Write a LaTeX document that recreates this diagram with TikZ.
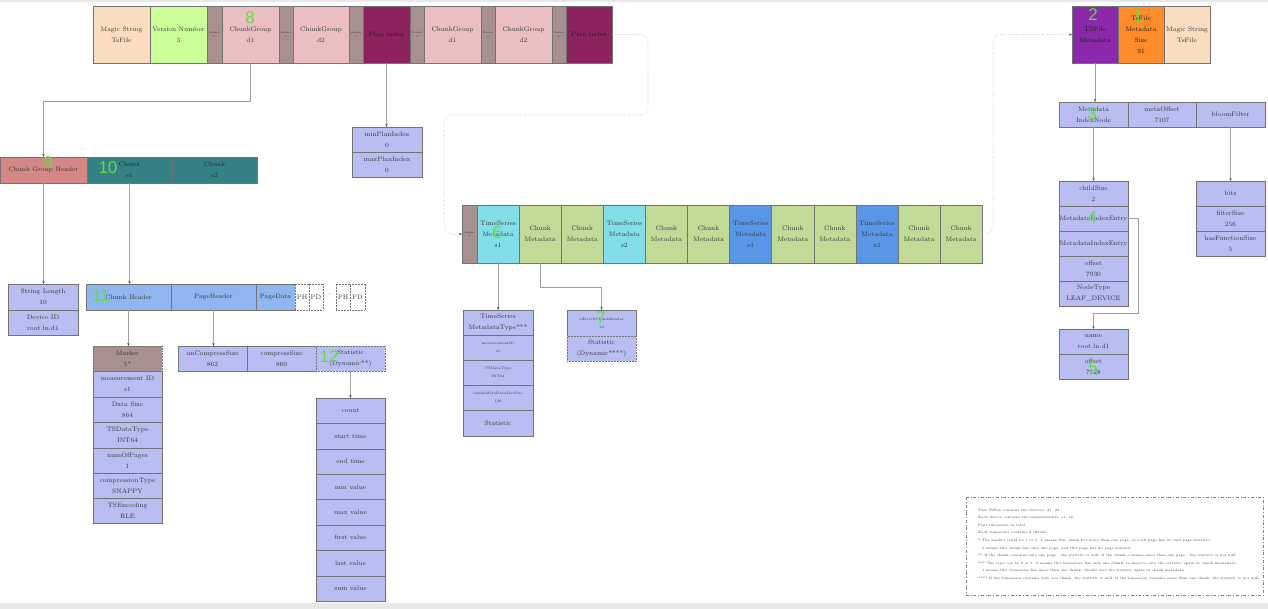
\documentclass[tikz,border=0pt]{standalone}
\usepackage{fontspec}
\newfontfamily\grnfont{Liberation Sans}
\usetikzlibrary{arrows.meta}
\definecolor{peach}{RGB}{250,221,192}
\definecolor{vgreen}{RGB}{204,255,153}
\definecolor{markerc}{RGB}{168,144,144}
\definecolor{cgpink}{RGB}{235,190,194}
\definecolor{planc}{RGB}{140,35,95}
\definecolor{tsmetac}{RGB}{140,40,170}
\definecolor{tsorange}{RGB}{255,140,40}
\definecolor{cghdr}{RGB}{212,136,134}
\definecolor{chunkteal}{RGB}{52,130,134}
\definecolor{chdrblue}{RGB}{143,182,240}
\definecolor{fieldc}{RGB}{184,190,242}
\definecolor{tscyan}{RGB}{130,222,232}
\definecolor{tsblue}{RGB}{90,150,232}
\definecolor{cmgreen}{RGB}{194,218,152}
\definecolor{grncol}{RGB}{100,220,70}
\definecolor{bandc}{RGB}{232,232,232}
\newcommand\fsz{\fontsize{6.5}{11}\selectfont}
\newcommand\tsz{\fontsize{2.5}{3.5}\selectfont}
\newcommand\ssz{\fontsize{3.5}{8}\selectfont}
\newcommand\nsz{\fontsize{3.35}{7.6}\selectfont}
\begin{document}
\begin{tikzpicture}[x=1pt,y=-1pt,
  cell/.style={draw=black!55, line width=0.5pt, inner sep=0pt, outer sep=0pt, anchor=north west, align=center, text=black!80, font=\fsz},
  sz/.style 2 args={minimum width=#1pt, minimum height=#2pt},
  mk/.style={cell, fill=markerc, font=\tsz},
  fld/.style={cell, fill=fieldc},
  dotbox/.style={draw=black!55, densely dotted},
  conn/.style={draw=gray!75, line width=0.6pt, -{Stealth[length=3pt,width=2.4pt,color=black!70]}},
  dconn/.style={draw=gray!60, line width=0.6pt, dotted, rounded corners=8pt, -{Stealth[length=3pt,width=2.4pt,color=black!70]}},
  grn/.style={font=\grnfont\fontsize{17}{17}\selectfont, text=grncol, inner sep=0pt}
]
\useasboundingbox (0,0) rectangle (1268,609);
\fill[bandc] (0,0) rectangle (1268,2.5);
\fill[bandc] (0,603) rectangle (1268,609);

% top row
\node[cell, fill=peach, sz={57}{57}] (ms1) at (93,6) {Magic String\\TsFile};
\node[cell, fill=vgreen, sz={57}{57}] (ver) at (150,6) {Version Number\\3};
\node[mk, sz={15}{57}] (m1) at (207,6) {Marker\\0};
\node[cell, fill=cgpink, sz={57}{57}] (cg1) at (222,6) {ChunkGroup\\d1};
\node[mk, sz={14}{57}] (m2) at (279,6) {Marker\\0};
\node[cell, fill=cgpink, sz={56}{57}] (cg2) at (293,6) {ChunkGroup\\d2};
\node[mk, sz={14}{57}] (m3) at (349,6) {Marker\\4};
\node[cell, fill=planc, text=black!90, sz={47}{57}] (plan1) at (363,6) {Plan Index};
\node[mk, sz={14}{57}] (m4) at (410,6) {Marker\\0};
\node[cell, fill=cgpink, sz={57}{57}] (cg3) at (424,6) {ChunkGroup\\d1};
\node[mk, sz={14}{57}] (m5) at (481,6) {Marker\\0};
\node[cell, fill=cgpink, sz={57}{57}] (cg4) at (495,6) {ChunkGroup\\d2};
\node[mk, sz={14}{57}] (m6) at (552,6) {Marker\\4};
\node[cell, fill=planc, text=black!90, sz={46}{57}] (plan2) at (566,6) {Plan Index};

\node[cell, fill=tsmetac, text=black!90, sz={46}{57}] (tsm) at (1072,6) {TSFile\\Metadata};
\node[cell, fill=tsorange, text=black!90, sz={46}{57}] (tss) at (1118,6) {TsFile\\Metadata\\Size\\91};
\node[cell, fill=peach, sz={46}{57}] (ms2) at (1164,6) {Magic String\\TsFile};

% chunk group
\node[cell, fill=cghdr, sz={87}{26}] (cgh) at (0,157) {Chunk Group Header};
\node[cell, fill=chunkteal, text=black!85, sz={85}{26}] (ck1) at (87,157) {Chunk\\s1};
\node[cell, fill=chunkteal, text=black!85, sz={85}{26}] (ck2) at (172,157) {Chunk\\s2};

\node[fld, sz={70}{26}] (sl) at (8,284) {String Length\\10};
\node[fld, sz={70}{25}] (did) at (8,310) {Device ID\\root.ln.d1};

% chunk
\node[cell, fill=chdrblue, sz={85}{26}] (chh) at (86,284) {Chunk Header};
\node[cell, fill=chdrblue, sz={85}{26}] (phd) at (171,284) {PageHeader};
\node[cell, fill=chdrblue, sz={39}{26}] (pdt) at (256,284) {PageData};
\node[cell, dotbox, fill=white, sz={14}{26}] (ph1) at (295,284) {PH};
\node[cell, dotbox, fill=white, sz={14}{26}] (pd1) at (309,284) {PD};
\node[text=black!85, font=\fontsize{9}{9}\selectfont, inner sep=0pt] (dots) at (330,296) {\textperiodcentered\kern-0.5pt\textperiodcentered\kern-0.5pt\textperiodcentered};
\node[cell, dotbox, fill=white, sz={14}{26}] (ph2) at (336,284) {PH};
\node[cell, dotbox, fill=white, sz={15}{26}] (pd2) at (350,284) {PD};

\node[cell, fill=markerc, dotbox, sz={69}{25}] (mk5) at (93,346) {Marker\\5*};
\node[fld, sz={69}{26}] (f1) at (93,371) {measurement ID\\s1};
\node[fld, sz={69}{25}] (f2) at (93,397) {Data Size\\864};
\node[fld, sz={69}{26}] (f3) at (93,422) {TSDataType\\INT64};
\node[fld, sz={69}{25}] (f4) at (93,448) {numOfPages\\1};
\node[fld, sz={69}{25}] (f5) at (93,473) {compressionType\\SNAPPY};
\node[fld, sz={69}{25}] (f6) at (93,498) {TSEncoding\\RLE};

\node[fld, sz={69}{25}] (ucs) at (178,346) {unCompressSize\\862};
\node[fld, sz={69}{25}] (cps) at (247,346) {compressSize\\860};
\node[fld, dotbox, sz={69}{25}] (st) at (316,346) {Statistic\\(Dynamic**)};

\node[fld, sz={69}{25.4}] (s1) at (316,398) {count};
\node[fld, sz={69}{25.4}] (s2) at (316,423.4) {start time};
\node[fld, sz={69}{25.4}] (s3) at (316,448.8) {end time};
\node[fld, sz={69}{25.4}] (s4) at (316,474.2) {min value};
\node[fld, sz={69}{25.4}] (s5) at (316,499.6) {max value};
\node[fld, sz={69}{25.4}] (s6) at (316,525) {first value};
\node[fld, sz={69}{25.4}] (s7) at (316,550.4) {last value};
\node[fld, sz={69}{25.4}] (s8) at (316,575.8) {sum value};

% plan index
\node[fld, sz={70}{25}] (mpi) at (352,127) {minPlanIndex\\0};
\node[fld, sz={70}{25}] (xpi) at (352,152) {maxPlanIndex\\0};

% middle row
\node[mk, sz={15}{58}] (mk7) at (462,205) {Marker\\2};
\node[cell, fill=tscyan, sz={42.1}{58}] (tm1) at (477,205) {TimeSeries\\Metadata\\s1};
\node[cell, fill=cmgreen, sz={42.1}{58}] (cm1) at (519.1,205) {Chunk\\Metadata};
\node[cell, fill=cmgreen, sz={42.1}{58}] (cm2) at (561.2,205) {Chunk\\Metadata};
\node[cell, fill=tscyan, sz={42.1}{58}] (tm2) at (603.3,205) {TimeSeries\\Metadata\\s2};
\node[cell, fill=cmgreen, sz={42.1}{58}] (cm3) at (645.4,205) {Chunk\\Metadata};
\node[cell, fill=cmgreen, sz={42.1}{58}] (cm4) at (687.5,205) {Chunk\\Metadata};
\node[cell, fill=tsblue, sz={42.1}{58}] (tm3) at (729.6,205) {TimeSeries\\Metadata\\s1};
\node[cell, fill=cmgreen, sz={42.1}{58}] (cm5) at (771.7,205) {Chunk\\Metadata};
\node[cell, fill=cmgreen, sz={42.1}{58}] (cm6) at (813.8,205) {Chunk\\Metadata};
\node[cell, fill=tsblue, sz={42.1}{58}] (tm4) at (855.9,205) {TimeSeries\\Metadata\\s2};
\node[cell, fill=cmgreen, sz={42.1}{58}] (cm7) at (898,205) {Chunk\\Metadata};
\node[cell, fill=cmgreen, sz={42.1}{58}] (cm8) at (940.1,205) {Chunk\\Metadata};

\node[fld, sz={70}{25}] (tmt) at (463,310) {TimeSeries\\MetadataType***};
\node[fld, font=\ssz, sz={70}{25}] (mid) at (463,335) {measurementID\\s1};
\node[fld, font=\ssz, sz={70}{25}] (tdt) at (463,360) {TSDataType\\INT64};
\node[fld, font=\ssz, sz={70}{25}] (cml) at (463,385) {chunkMetaDataListSize\\136};
\node[fld, sz={70}{26}] (sta) at (463,410) {Statistic};

\node[fld, font=\ssz, sz={69}{26}] (och) at (567,310) {offsetOfChunkHeader\\19};
\node[fld, dotbox, sz={69}{25}] (sdy) at (567,336) {Statistic\\(Dynamic****)};

% right side
\node[fld, sz={69}{25}] (min) at (1059,102) {Metadata\\IndexNode};
\node[fld, sz={68}{25}] (mof) at (1128,102) {metaOffset\\7107};
\node[fld, sz={69}{25}] (bf) at (1196,102) {bloomFilter};

\node[fld, sz={69}{25}] (cs1) at (1059,181) {childSize\\2};
\node[fld, sz={69}{25}] (mie1) at (1059,206) {MetadataIndexEntry};
\node[fld, sz={69}{25}] (mie2) at (1059,231) {MetadataIndexEntry};
\node[fld, sz={69}{25}] (ofs) at (1059,256) {offset\\7930};
\node[fld, sz={69}{25}] (ntp) at (1059,281) {NodeType\\LEAF\_DEVICE};

\node[fld, sz={69}{25}] (bits) at (1196,181) {bits};
\node[fld, sz={69}{25}] (fsz) at (1196,206) {filterSize\\256};
\node[fld, sz={69}{25}] (hfs) at (1196,231) {hasFunctionSize\\5};

\node[fld, sz={69}{25}] (nm) at (1059,329) {name\\root.ln.d1};
\node[fld, sz={69}{25}] (nof) at (1059,354) {offset\\7528};

% connectors
\coordinate (w1) at (648,115);
\coordinate (w2) at (444,115);
\coordinate (w3) at (993,234);
\draw[conn] (cg1.south) -- ++(0,38) -| (cgh.north);
\draw[conn] (cgh.south) -- (cgh.south |- sl.north);
\draw[conn] (ck1.south) -- (ck1.south |- chh.north);
\draw[conn] (chh.south) -- (chh.south |- mk5.north);
\draw[conn] (phd.south) -- (phd.south |- ucs.north);
\draw[conn] (st.south) -- (st.south |- s1.north);
\draw[conn] (plan1.south) -- (plan1.south |- mpi.north);
\draw[dconn] (plan2.east) -| (w1) -- (w2) |- (mk7.west);
\draw[dconn] (cm8.east) -- (w3) |- (tsm.west);
\draw[conn] (tm1.south) -- (tm1.south |- tmt.north);
\draw[conn] (cm1.south) -- ++(0,24) -| (och.north);
\draw[conn] (tsm.south) -- (tsm.south |- min.north);
\draw[conn] (min.south) -- (min.south |- cs1.north);
\draw[conn] (bf.south) -- (bf.south |- bits.north);
\draw[conn] (mie1.east) -- ++(10,0) -- ++(0,95) -| (nm.north);

% note
\draw[draw=black!50, line width=0.5pt, dash dot] (966,497) rectangle (1263,595);
\node[anchor=north west, align=left, font=\nsz, text=black!75, inner sep=0pt] (note) at (978,508.5) {%
This TsFile contains two devices: d1, d2.\\
Each device contains two measurements: s1, s2.\\
Four timeseries in total.\\
Each timeseries contains 2 chunks.\\
* The marker could be 1 or 5. 1 means this chunk has more than one page, so each page has its own page statistic;\\
\hspace{4pt}5 means this chunk has only one page, and this page has no page statistic\\
** If the chunk contains only one page , the statistic is null; if the chunk contains more than one page , the statistic is not null.\\
*** The type can be 0 or 1. 0 means this timeseries has only one chunk, so need to save the statistic again in chunk mentadata;\\
\hspace{4pt}1 means this timeseries has more than one chunk, should save the statistic again in chunk metadata.\\
**** If the timeseries contains only one chunk, the statistic is null; if the timeseries contains more than one chunk, the statistic is not null.};

% green numbers
\node[grn] (g8) at (250,18) {8};
\node[grn] (g2) at (1093,15) {2};
\node[grn] (g1) at (1138,16) {1};
\node[grn] (g9) at (48,163) {9};
\node[grn] (g10) at (108,168) {10};
\node[grn] (g11) at (101,296) {11};
\node[grn] (g12) at (329,357) {12};
\node[grn] (g6) at (497,233) {6};
\node[grn] (g7) at (601,318) {7};
\node[grn] (g3) at (1092,114) {3};
\node[grn] (g4) at (1092,218) {4};
\node[grn] (g5) at (1093,368) {5};
\end{tikzpicture}
\end{document}
